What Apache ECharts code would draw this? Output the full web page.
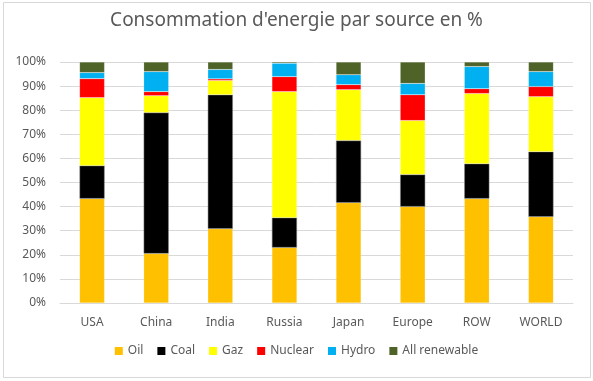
<!DOCTYPE html>
<html>
<head>
<meta charset="utf-8">
<script src="https://cdn.jsdelivr.net/npm/echarts@6/dist/echarts.min.js"></script>
<style>html,body{margin:0;padding:0;background:#fff}#c{width:593px;height:381px}</style>
</head>
<body>
<div id="c"></div>
<script>
const categories = ['USA','China','India','Russia','Japan','Europe','ROW','WORLD'];
const oil       = [43.3, 20.5, 30.8, 23.0, 41.6, 40.0, 43.3, 35.8];
const coal      = [13.7, 58.5, 55.6, 12.4, 25.8, 13.3, 14.5, 27.0];
const gaz       = [28.2,  7.0,  5.9, 52.3, 21.1, 22.4, 29.1, 22.8];
const nuclear   = [ 7.9,  1.7,  0.7,  6.2,  2.1, 10.7,  2.0,  4.2];
const hydro     = [ 2.5,  8.3,  3.9,  5.6,  4.1,  4.7,  9.2,  6.2];
const renewable = [ 4.4,  4.0,  3.1,  0.5,  5.3,  8.9,  1.9,  4.0];
const seriesNames = ['Oil','Coal','Gaz','Nuclear','Hydro','All renewable'];
const seriesData = [oil, coal, gaz, nuclear, hydro, renewable];
const colors = ['#FFC000','#000000','#FFFF00','#FF0000','#00B0F0','#4F6228'];

const chart = echarts.init(document.getElementById('c'), null, {renderer:'canvas'});
const font = 'Noto Sans, Liberation Sans, sans-serif';
chart.setOption({
  backgroundColor: '#fff',
  animation: false,
  title: {
    text: "Consommation d'energie par source en %",
    left: 'center', top: 6,
    textStyle: {color:'#595959', fontSize:19, fontWeight:'normal', fontFamily: font}
  },
  grid: {left: 60, right: 20, top: 62, bottom: 78},
  legend: {
    bottom: 19, left: 'center',
    itemWidth: 8, itemHeight: 8, itemGap: 14,
    icon: 'rect',
    itemStyle: {borderWidth: 0},
    textStyle: {color:'#595959', fontSize:12, fontFamily: font},
    data: seriesNames
  },
  xAxis: {
    type: 'category', data: categories,
    axisLine: {lineStyle:{color:'#d9d9d9'}},
    axisTick: {show:false},
    axisLabel: {color:'#595959', fontSize:12, margin:14, fontFamily: font}
  },
  yAxis: {
    type: 'value', min: 0, max: 100, interval: 10,
    axisLine: {show:false}, axisTick: {show:false},
    splitLine: {lineStyle:{color:'#d9d9d9'}},
    axisLabel: {color:'#595959', fontSize:12, margin:14, fontFamily: font, formatter: v => v + '%'}
  },
  series: seriesData.map((d, i) => ({
    name: seriesNames[i], type: 'bar', stack: 'total',
    data: d, barWidth: '39%',
    itemStyle: {color: colors[i], borderColor: i === 1 ? '#7f7f7f' : 'rgba(255,255,255,0.3)', borderWidth: 0.5}
  })),
  graphic: [{
    type: 'rect', shape: {x: 3.5, y: 2.5, width: 587, height: 375},
    style: {fill: 'none', stroke: '#d9d9d9', lineWidth: 1}, silent: true, z: -1
  }]
});
</script>
</body>
</html>
